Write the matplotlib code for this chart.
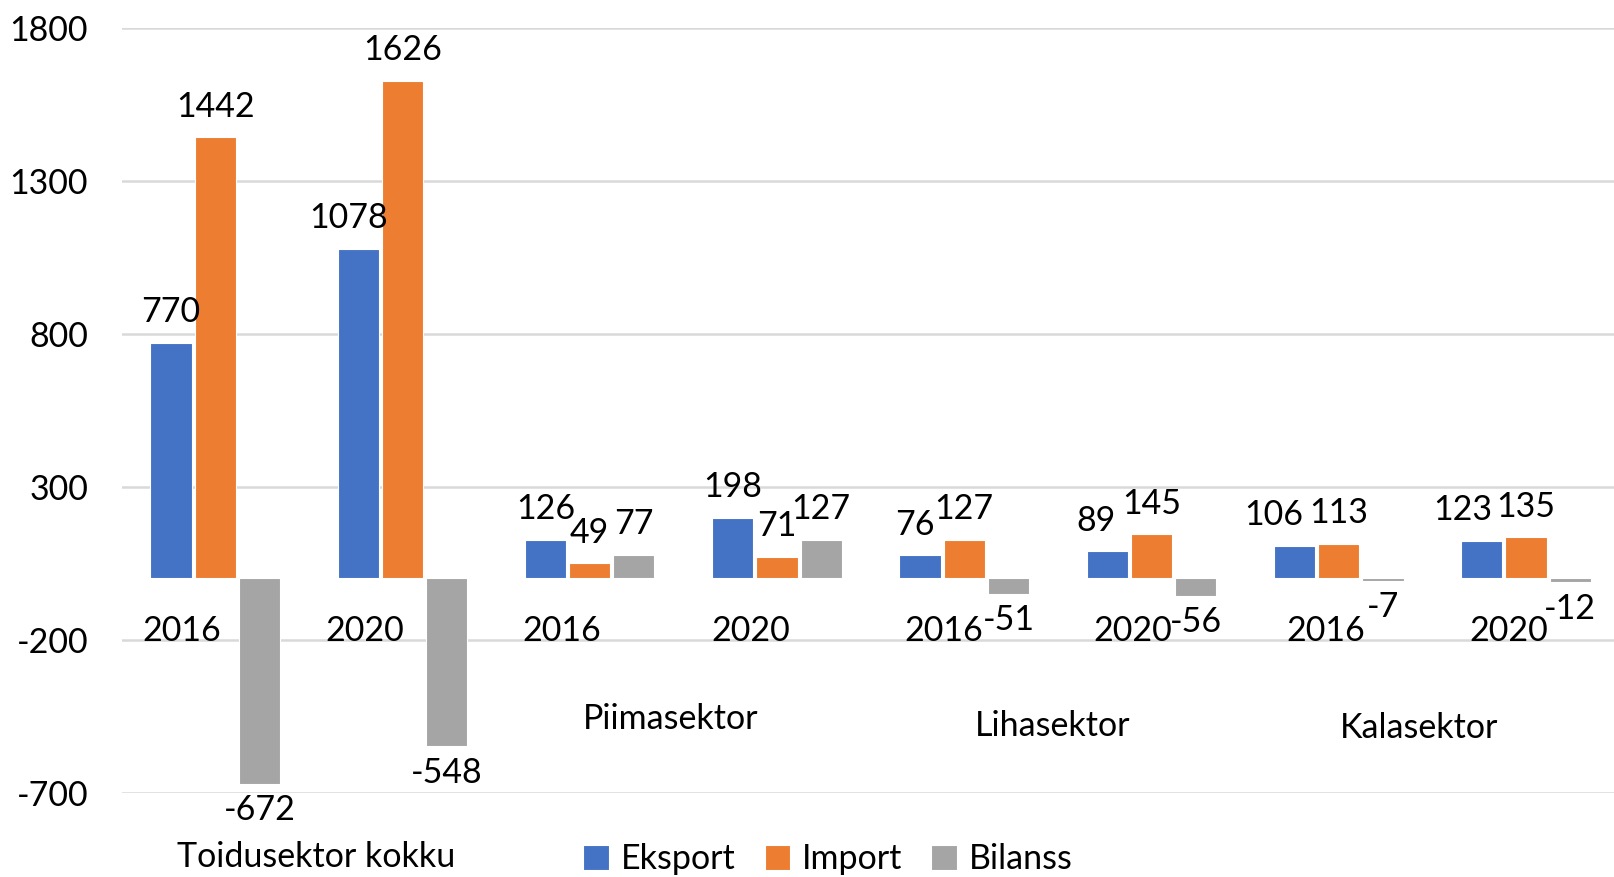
import matplotlib
matplotlib.use("Agg")
import matplotlib.pyplot as plt
import numpy as np

plt.rcParams['font.family'] = ['Lato', 'DejaVu Sans']

# data
years = ['2016', '2020', '2016', '2020', '2016', '2020', '2016', '2020']
sectors = ['Toidusektor kokku', 'Piimasektor', 'Lihasektor', 'Kalasektor']
eksport = [770, 1078, 126, 198, 76, 89, 106, 123]
import_ = [1442, 1626, 49, 71, 127, 145, 113, 135]
bilanss = [-672, -548, 77, 127, -51, -56, -7, -12]
series_names = ['Eksport', 'Import', 'Bilanss']
colors = ['#4472C4', '#ED7D31', '#A5A5A5']
yticks = [-700, -200, 300, 800, 1300, 1800]

# layout tweaks (pixel shifts of a few value labels, year/sector label spots)
label_dx = {(0, 1): -10, (0, 4): -5, (0, 5): -11, (0, 6): -21, (0, 7): -19}
year_dx = [-0.18, -0.20, -0.15, -0.14, -0.11, -0.10, -0.07, -0.09]
sector_pos = [(0.54, -912), (2.43, -458), (4.47, -481), (6.43, -488)]

fs = 24.5
fig = plt.figure(figsize=(16.14, 8.77), dpi=100)
ax = fig.add_axes([0.0753, 0.0962, 0.9247, 0.8721])

x = np.arange(len(years))
w = 0.22
step = 0.236
data = [eksport, import_, bilanss]
for s, vals in enumerate(data):
    xs = x + (s - 1) * step
    ax.bar(xs, vals, width=w, color=colors[s], edgecolor='white',
           linewidth=0.8, label=series_names[s], zorder=3)
    for i, v in enumerate(vals):
        dx = label_dx.get((s, i), 0) / 1.389
        dy = 22 if v >= 0 else -19
        ax.annotate(str(v), (xs[i], v), xytext=(dx, dy),
                    textcoords='offset points', ha='center', va='center',
                    fontsize=fs, zorder=4)

for i, yr in enumerate(years):
    ax.text(x[i] + year_dx[i], -172, yr, ha='center', va='center', fontsize=fs)
for (sx, sy), name in zip(sector_pos, sectors):
    ax.text(sx, sy, name, ha='center', va='center', fontsize=fs, clip_on=False)

ax.set_xlim(-0.5, 7.47)
ax.set_ylim(-700, 1800)
ax.set_yticks(yticks)
ax.set_yticklabels([str(t) for t in yticks], fontsize=fs)
ax.tick_params(axis='y', length=0, pad=24)
ax.set_xticks([])
ax.yaxis.grid(True, color='#d9d9d9', linewidth=1.8, zorder=0)
for sp in ax.spines.values():
    sp.set_visible(False)

fig.legend(loc='center', bbox_to_anchor=(0.513, 0.02), ncol=3, frameon=False,
           fontsize=fs, handlelength=0.75, handleheight=0.75,
           handletextpad=0.35, columnspacing=0.85)

fig.savefig('out.png', dpi=100)
